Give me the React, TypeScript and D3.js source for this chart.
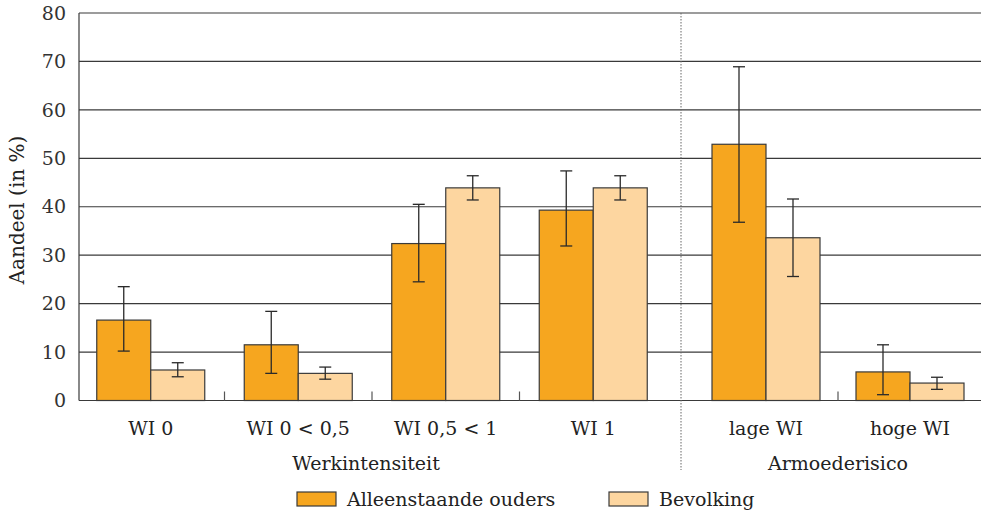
import React from "react";
import * as d3 from "d3";

const panel1Categories = ["WI 0", "WI 0 < 0,5", "WI 0,5 < 1", "WI 1"];
const panel2Categories = ["lage WI", "hoge WI"];
const panelTitles = ["Werkintensiteit", "Armoederisico"];
const seriesNames = ["Alleenstaande ouders", "Bevolking"];
const seriesColors = ["#f6a61f", "#fdd6a0"];

// values per category (panel1 then panel2)
const alleenstaande = [16.6, 11.5, 32.4, 39.3, 52.9, 5.9];
const alleenstaandeLow = [10.2, 5.6, 24.5, 31.9, 36.8, 1.2];
const alleenstaandeHigh = [23.5, 18.4, 40.5, 47.4, 68.9, 11.5];
const bevolking = [6.3, 5.6, 43.9, 43.9, 33.6, 3.6];
const bevolkingLow = [4.9, 4.4, 41.4, 41.4, 25.6, 2.3];
const bevolkingHigh = [7.8, 6.9, 46.4, 46.4, 41.6, 4.8];
const yTicks = [0, 10, 20, 30, 40, 50, 60, 70, 80];

const W = 981;
const H = 512;
const FONT = "'DejaVu Serif', serif";

export default function App() {
  const left = 79;
  const right = 981;
  const y = d3.scaleLinear().domain([0, 80]).range([400.5, 13]);
  const x1 = d3.scaleBand<string>().domain(panel1Categories).range([77, 667]).paddingInner(0).paddingOuter(0);
  const x2 = d3.scaleBand<string>().domain(panel2Categories).range([694, 982]).paddingInner(0).paddingOuter(0);
  const barW = 54;
  const sepX = 681;

  const cats = [
    ...panel1Categories.map((c) => ({ c, x: x1(c)! + x1.bandwidth() / 2 })),
    ...panel2Categories.map((c) => ({ c, x: x2(c)! + x2.bandwidth() / 2 })),
  ];
  const series = [
    { vals: alleenstaande, lo: alleenstaandeLow, hi: alleenstaandeHigh, off: -barW },
    { vals: bevolking, lo: bevolkingLow, hi: bevolkingHigh, off: 0 },
  ];
  const tickXs = [...panel1Categories.slice(1).map((c) => x1(c)!), x2(panel2Categories[1])!];

  return (
    <svg width={W} height={H} style={{ position: "absolute", left: 0, top: 0, background: "#fff" }} fontFamily={FONT}>
      {yTicks.map((t) => (
        <g key={t}>
          <line x1={left} x2={right} y1={y(t)} y2={y(t)} stroke="#3a3a3a" strokeWidth={1.2} />
          <text x={66} y={y(t)} dy="0.35em" textAnchor="end" fontSize={19} fill="#333">
            {t}
          </text>
        </g>
      ))}
      <line x1={left} x2={left} y1={y(80)} y2={y(0)} stroke="#3a3a3a" strokeWidth={1.2} />
      <line x1={sepX} x2={sepX} y1={y(80)} y2={470} stroke="#666" strokeWidth={1} strokeDasharray="1.5,1.5" />
      {tickXs.map((tx, i) => (
        <line key={i} x1={tx} x2={tx} y1={y(0)} y2={y(0) - 9} stroke="#555" strokeWidth={1.2} />
      ))}
      {series.map((s, si) =>
        cats.map((c, ci) => (
          <rect
            key={`${si}-${ci}`}
            x={c.x + s.off}
            y={y(s.vals[ci])}
            width={barW}
            height={y(0) - y(s.vals[ci])}
            fill={seriesColors[si]}
            stroke="#3a3a3a"
            strokeWidth={1.2}
          />
        ))
      )}
      {series.map((s, si) =>
        cats.map((c, ci) => {
          const cx = c.x + s.off + barW / 2;
          return (
            <g key={`e${si}-${ci}`} stroke="#2a2a2a" strokeWidth={1.3}>
              <line x1={cx} x2={cx} y1={y(s.hi[ci])} y2={y(s.lo[ci])} />
              <line x1={cx - 6} x2={cx + 6} y1={y(s.hi[ci])} y2={y(s.hi[ci])} />
              <line x1={cx - 6} x2={cx + 6} y1={y(s.lo[ci])} y2={y(s.lo[ci])} />
            </g>
          );
        })
      )}
      {cats.map((c) => (
        <text key={c.c} x={c.x} y={435} textAnchor="middle" fontSize={19} fill="#222">
          {c.c}
        </text>
      ))}
      <text x={(77 + 667) / 2 - 6} y={470} textAnchor="middle" fontSize={19} fill="#222">
        {panelTitles[0]}
      </text>
      <text x={(694 + 982) / 2} y={470} textAnchor="middle" fontSize={19} fill="#222">
        {panelTitles[1]}
      </text>
      <text transform={`translate(24,210) rotate(-90)`} textAnchor="middle" fontSize={20} fill="#222">
        Aandeel (in %)
      </text>
      {seriesNames.map((n, i) => {
        const lx = i === 0 ? 297 : 609;
        return (
          <g key={n}>
            <rect x={lx} y={492} width={39} height={14} fill={seriesColors[i]} stroke="#3a3a3a" strokeWidth={1.2} />
            <text x={lx + 50} y={506} fontSize={19} fill="#222">
              {n}
            </text>
          </g>
        );
      })}
    </svg>
  );
}
